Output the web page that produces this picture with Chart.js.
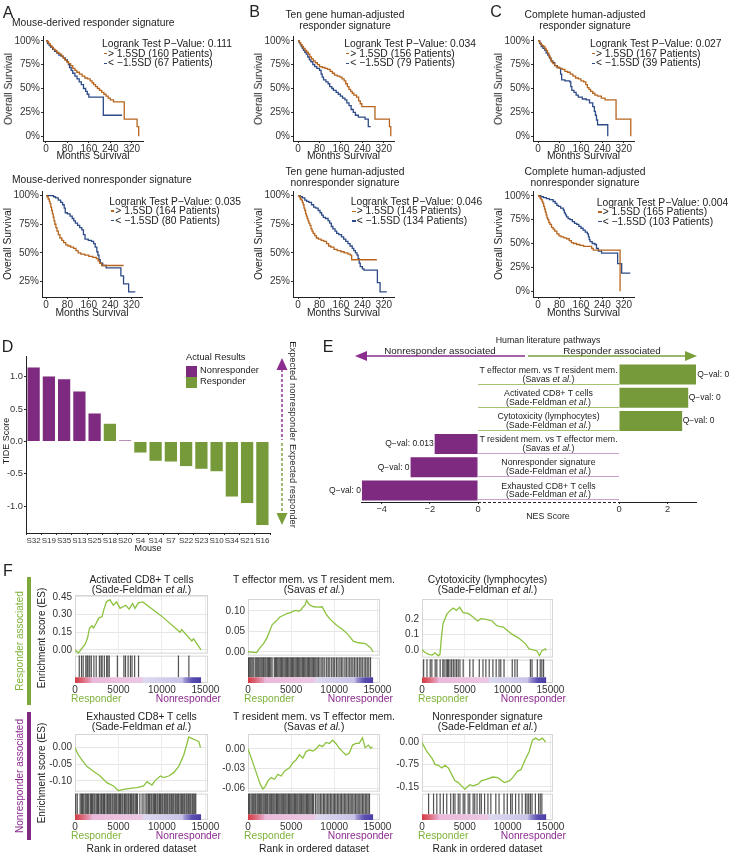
<!DOCTYPE html>
<html>
<head>
<meta charset="utf-8">
<script src="https://cdn.jsdelivr.net/npm/chart.js@4.4.1/dist/chart.umd.min.js"></script>
<style>
body{margin:0;background:#fff;width:730px;height:857px;position:relative;overflow:hidden;font-family:'Liberation Sans',Arial,Helvetica,sans-serif;color:#222}
.t{position:absolute;white-space:nowrap;line-height:1}
canvas{position:absolute}
</style>
</head>
<body>
<svg width="730" height="857" style="position:absolute;left:0;top:0">
  <line x1="282" y1="369" x2="282" y2="440" stroke="#8B2D8F" stroke-width="1.4" stroke-dasharray="3,2"/>
  <polygon points="282,358 276.5,370 287.5,370" fill="#8B2D8F"/>
  <line x1="282" y1="443" x2="282" y2="514" stroke="#7A9E3A" stroke-width="1.4" stroke-dasharray="3,2"/>
  <polygon points="282,525 276.5,513 287.5,513" fill="#7A9E3A"/>
  <line x1="364" y1="356" x2="525" y2="356" stroke="#8B2D8F" stroke-width="1.5"/>
  <polygon points="355,356 367,351 367,361" fill="#8B2D8F"/>
  <line x1="528" y1="356" x2="688" y2="356" stroke="#7A9E3A" stroke-width="1.5"/>
  <polygon points="697,356 685,351 685,361" fill="#7A9E3A"/>
  <line x1="478" y1="502.5" x2="619" y2="502.5" stroke="#222" stroke-width="1" stroke-dasharray="3,2"/>
  <rect x="27" y="577" width="4" height="128" fill="#7DA83A"/>
  <rect x="27" y="712" width="4" height="128" fill="#7E2A80"/>
</svg>
<script>
// ---------- survival curves (months, % surviving) ----------
const kmXTicks = [0, 80, 160, 240, 320];
const kmYTicksFull = [0, 25, 50, 75, 100];
const kmYTicksCut = [25, 50, 75, 100];
const kmPValues = ['0.111', '0.035', '0.034', '0.046', '0.027', '0.004'];
const kmHighN = [160, 164, 156, 145, 167, 165];
const kmLowN = [67, 80, 79, 134, 39, 103];

const kmA1High = [[0,100],[5,99],[10,97],[16,95],[22,93],[28,91],[34,90],[40,88],[46,87],[52,86],[58,84],[64,82],[70,80],[77,78],[84,76],[92,74],[100,71],[108,69],[115,67],[125,65],[135,63],[145,61],[155,60],[165,58],[172,56],[178,54],[185,52],[192,50],[200,48],[208,46],[216,44],[224,42],[232,40],[240,38],[252,36],[292,18],[340,10],[346,0]];
const kmA1Low = [[0,100],[6,97],[12,95],[18,93],[25,91],[32,89],[40,87],[48,85],[56,84],[64,82],[72,80],[80,78],[84,75],[88,72],[94,69],[100,66],[108,63],[116,60],[124,57],[132,54],[140,50],[148,47],[154,44],[160,41],[214,22],[284,22]];
const kmA2High = [[0,100],[4,99],[8,97],[12,95],[15,93],[18,90],[21,87],[24,84],[27,81],[30,78],[33,75],[37,72],[41,69],[46,66],[52,63],[59,61],[66,59],[74,57],[82,56],[92,55],[103,54],[112,52],[120,50],[130,49],[145,48],[160,47],[175,46],[188,45],[195,43],[200,41],[208,39],[290,39]];
const kmA2Low = [[0,100],[20,100],[28,99],[36,98],[46,96],[55,94],[62,92],[68,89],[72,85],[80,84],[90,82],[98,80],[104,78],[110,76],[118,74],[126,72],[134,70],[140,66],[146,62],[158,61],[170,60],[178,58],[184,55],[190,51],[194,48],[198,44],[203,41],[212,39],[225,37],[272,37],[280,30],[290,23],[309,16],[334,16]];
const kmB1High = [[0,100],[5,98],[10,96],[15,94],[20,92],[26,90],[32,88],[38,86],[44,83],[50,81],[57,79],[64,77],[72,75],[80,73],[90,72],[100,71],[110,70],[120,68],[128,66],[136,64],[146,63],[156,62],[164,60],[172,58],[178,55],[184,52],[190,49],[196,47],[202,45],[208,43],[218,41],[226,37],[232,34],[238,31],[287,18],[341,10],[346,0]];
const kmB1Low = [[0,100],[4,98],[8,96],[12,94],[16,92],[20,90],[25,88],[30,86],[36,83],[42,80],[48,78],[55,75],[62,73],[70,71],[80,69],[86,65],[90,62],[95,59],[104,57],[112,55],[118,52],[126,50],[132,48],[142,46],[150,44],[158,42],[166,40],[175,38],[182,35],[190,32],[198,28],[206,25],[214,22],[225,20],[250,18],[262,10],[271,10]];
const kmB2High = [[0,100],[4,99],[8,97],[12,96],[16,94],[19,92],[22,89],[25,87],[28,84],[31,82],[34,80],[37,78],[40,76],[44,74],[48,71],[52,69],[56,67],[62,65],[68,63],[76,62],[86,61],[96,60],[106,58],[114,56],[122,55],[134,53],[146,52],[160,51],[172,50],[186,49],[195,48],[200,44],[294,44]];
const kmB2Low = [[0,100],[8,99],[16,98],[25,96],[32,95],[40,94],[50,92],[58,90],[66,89],[75,87],[82,85],[88,83],[94,81],[102,80],[112,78],[118,76],[124,73],[130,71],[138,69],[144,67],[152,66],[162,64],[170,62],[178,60],[186,58],[194,56],[202,54],[208,52],[214,50],[220,48],[224,45],[228,41],[232,38],[240,36],[246,35],[288,35],[296,24],[306,16],[331,16]];
const kmC1High = [[0,100],[5,98],[10,96],[15,95],[20,94],[25,92],[30,90],[35,87],[40,84],[45,81],[50,78],[56,76],[62,74],[70,72],[80,71],[90,70],[100,68],[110,67],[120,65],[130,63],[140,61],[150,60],[160,58],[170,57],[178,54],[184,51],[190,49],[196,47],[204,45],[212,43],[222,42],[236,40],[250,38],[291,18],[346,0]];
const kmC1Low = [[0,100],[6,97],[12,94],[18,92],[25,90],[30,87],[36,85],[42,82],[48,79],[55,77],[62,74],[72,72],[80,71],[84,65],[88,59],[100,58],[118,57],[122,52],[126,48],[134,46],[142,43],[150,41],[165,39],[180,38],[192,35],[204,31],[210,26],[214,22],[218,17],[222,12],[256,12],[260,0]];
const kmC2High = [[0,100],[4,99],[8,97],[12,96],[15,94],[18,92],[21,89],[24,86],[27,83],[30,80],[33,77],[36,75],[40,72],[44,70],[50,67],[56,65],[62,63],[70,60],[78,58],[86,57],[96,56],[106,55],[116,53],[124,51],[132,50],[144,49],[156,48],[170,47],[194,47],[200,45],[206,43],[306,0]];
const kmC2Low = [[0,100],[10,99],[20,98],[31,97],[42,96],[56,94],[64,92],[70,90],[76,89],[84,87],[94,85],[98,82],[102,80],[106,78],[112,76],[119,75],[128,73],[136,71],[144,70],[152,68],[160,66],[168,64],[176,62],[184,60],[188,57],[191,54],[194,52],[202,50],[212,49],[218,45],[225,42],[237,40],[297,29],[312,19],[344,19]];

// ---------- TIDE scores ----------
const mice = ['S32','S19','S35','S13','S25','S18','S20','S4','S14','S7','S22','S23','S10','S34','S21','S16'];
const tideScore = [1.15, 1.01, 0.97, 0.78, 0.44, 0.28, 0.02, -0.18, -0.31, -0.32, -0.39, -0.43, -0.47, -0.86, -0.96, -1.30];
const actualResult = ['Nonresponder','Nonresponder','Nonresponder','Nonresponder','Nonresponder','Responder','Nonresponder','Responder','Responder','Responder','Responder','Responder','Responder','Responder','Responder','Responder'];
const tideTicks = [-1, -0.5, 0, 0.5, 1];
const tideTickLabels = ['-1.0', '-0.5', '0.0', '0.5', '1.0'];

// ---------- NES of human literature pathways ----------
const pathwayNames = ['T effector mem. vs T resident mem.', 'Activated CD8+ T cells', 'Cytotoxicity (lymphocytes)', 'T resident mem. vs T effector mem.', 'Nonresponder signature', 'Exhausted CD8+ T cells'];
const pathwayAuthors = ['Savas', 'Sade-Feldman', 'Sade-Feldman', 'Savas', 'Sade-Feldman', 'Sade-Feldman'];
const nesScore = [3.2, 2.85, 2.6, -1.8, -2.8, -4.82];
const qValue = ['0', '0', '0', '0.013', '0', '0'];
const nesTicksLeft = [-4, -2, 0];
const nesTicksRight = [0, 2];

// ---------- GSEA running enrichment scores [rank, ES] and hit ranks ----------
const rankTicks = [0, 5000, 10000, 15000];
const esActivated = [[0,0],[390,-0.028],[780,0.011],[1170,0.047],[1440,0.10],[1675,0.186],[1950,0.205],[2140,0.186],[2450,0.228],[2730,0.27],[3120,0.283],[3310,0.34],[3620,0.41],[4010,0.428],[4400,0.38],[4790,0.408],[5180,0.353],[5840,0.38],[6230,0.347],[6620,0.394],[6900,0.353],[7290,0.40],[7790,0.408],[9935,0.289],[12080,0.15],[12270,0.172],[13440,0.075],[13640,0.094],[14500,0.0]];
const esTeffTres = [[0,0],[1000,-0.002],[1400,0.01],[1800,0.02],[2200,0.034],[2500,0.05],[2800,0.066],[3100,0.072],[3400,0.078],[3700,0.085],[4000,0.088],[4500,0.093],[5000,0.096],[5300,0.1],[5600,0.101],[5900,0.099],[6200,0.104],[6400,0.11],[6600,0.114],[6800,0.126],[7000,0.118],[7200,0.114],[7600,0.11],[8200,0.109],[8600,0.11],[9000,0.094],[9300,0.085],[9600,0.078],[10200,0.066],[10600,0.06],[11000,0.054],[11600,0.042],[12200,0.026],[12800,0.022],[13600,0.02],[14200,0.01],[14500,0]];
const esCytotox = [[0,0],[400,-0.02],[800,-0.03],[1200,-0.035],[1500,-0.02],[1900,-0.04],[2100,-0.03],[2250,0.07],[2450,0.17],[2900,0.235],[3300,0.26],[3650,0.275],[4000,0.26],[4400,0.28],[4800,0.245],[5400,0.24],[6000,0.215],[6500,0.19],[6900,0.205],[7500,0.2],[8200,0.19],[8700,0.16],[9000,0.155],[9500,0.15],[9800,0.135],[10500,0.103],[11300,0.077],[12100,0.039],[12500,0.006],[13000,0.0],[13400,-0.006],[13730,-0.039],[14000,-0.006],[14400,0.006],[14500,-0.005]];
const esExhausted = [[0,0],[385,-0.022],[770,-0.036],[1353,-0.056],[2118,-0.071],[2888,-0.085],[3658,-0.105],[4428,-0.115],[5005,-0.129],[5583,-0.125],[6353,-0.122],[7123,-0.12],[7893,-0.115],[8278,-0.102],[8855,-0.112],[9240,-0.098],[9818,-0.085],[10203,-0.09],[10780,-0.085],[11358,-0.075],[11935,-0.056],[12513,-0.022],[13090,0.032],[13475,0.027],[13860,0.023],[14245,0.018],[14438,0]];
const esTresTeff = [[0,0],[385,-0.014],[770,-0.029],[1150,-0.044],[1420,-0.054],[1730,-0.0615],[2040,-0.0565],[2310,-0.049],[2690,-0.044],[3080,-0.0465],[3460,-0.039],[3850,-0.0415],[4230,-0.034],[4810,-0.029],[5190,-0.0215],[5580,-0.0165],[5960,-0.009],[6350,-0.014],[6730,-0.004],[7120,-0.0015],[7500,-0.003],[7880,0],[8270,0.006],[8650,0.0035],[9040,0.01],[9420,0.0085],[9810,0.0135],[10190,0.0085],[10580,0.001],[10960,-0.004],[11350,-0.009],[11730,-0.0065],[12120,0.006],[12500,0.0085],[12880,0.0085],[13270,0.017],[13580,0.002],[13960,0.006],[14230,0.001],[14420,0.0035]];
const esNonresp = [[0,0],[578,-0.031],[1155,-0.053],[1540,-0.075],[1925,-0.077],[2310,-0.086],[2695,-0.077],[3080,-0.086],[3465,-0.108],[3850,-0.13],[4235,-0.136],[4620,-0.147],[5005,-0.158],[5580,-0.143],[5970,-0.147],[6545,-0.141],[6930,-0.13],[7500,-0.125],[8280,-0.117],[8855,-0.119],[9625,-0.136],[10200,-0.13],[10590,-0.119],[11165,-0.097],[11550,-0.092],[12130,-0.053],[12510,-0.031],[12900,0.008],[13280,0.015],[13670,0.008],[14050,0.015],[14440,0.002]];

const hitsActivated = [490, 750, 940, 1240, 1390, 1500, 1690, 1875, 2175, 2440, 2810, 3000, 3120, 3375, 3640, 3780, 3940, 4875, 5625, 5810, 6110, 6375, 6560, 6860, 7310, 11900, 13100];
const hitsTeffTres = [60, 200, 330, 470, 610, 820, 950, 1080, 1240, 1380, 1520, 1650, 1800, 1950, 2080, 2230, 2370, 2500, 2640, 2790, 3050, 3190, 3320, 3460, 3600, 3740, 3880, 4020, 4170, 4310, 4450, 4590, 4730, 4880, 5020, 5160, 5300, 5450, 5590, 5730, 5870, 6010, 6150, 6300, 6440, 6580, 6720, 6870, 7010, 7150, 7300, 7440, 7580, 7730, 7870, 8020, 8180, 8350, 8560, 8700, 8900, 9120, 9300, 9480, 9700, 9880, 10050, 10260, 10440, 10650, 10820, 11000, 11230, 11400, 11600, 11790, 11960, 12150, 12330, 12520, 12700, 12900, 13080, 13250, 13460, 13640, 13820, 14000, 14200];
const hitsCytotox = [190, 580, 960, 1150, 1540, 1730, 2120, 2430, 2580, 2810, 2960, 3080, 3270, 3460, 3660, 3850, 4040, 4230, 4430, 4810, 5580, 5970, 6690, 7120, 7460, 7850, 8280, 8660, 9000, 9200, 9580, 10540, 10850, 11120, 12660, 12850, 13470, 13810, 14000, 14200];
const hitsExhausted = [80, 260, 590, 740, 870, 1010, 1170, 1300, 1450, 1580, 1760, 1890, 2010, 2170, 2290, 2450, 2600, 2710, 2880, 3020, 3130, 3290, 3400, 3570, 3720, 3830, 3990, 4110, 4270, 4390, 4560, 4690, 4810, 4970, 5120, 5230, 5390, 5510, 5680, 5790, 5950, 6100, 6210, 6370, 6490, 6650, 6770, 6930, 7070, 7190, 7460, 7720, 7930, 8160, 8290, 8450, 8570, 8730, 8850, 9010, 9150, 9270, 9430, 9550, 9710, 9830, 9990, 10110, 10270, 10390, 10550, 10670, 10830, 10950, 11110, 11250, 11370, 11530, 11650, 11810, 11930, 12090, 12230, 12350, 12510, 12630, 12790, 12910, 13070, 13210, 13330, 13490, 13610, 13770, 13890];
const hitsTresTeff = [40, 180, 350, 490, 620, 780, 900, 1060, 1190, 1330, 1470, 1600, 1750, 1880, 2030, 2170, 2290, 2450, 2580, 2720, 2870, 3000, 3140, 3290, 3410, 3560, 3700, 3840, 3970, 4110, 4260, 4390, 4530, 4680, 4800, 4950, 5090, 5230, 5370, 5500, 5650, 5780, 5930, 6060, 6200, 6350, 6480, 6620, 6770, 6900, 7040, 7180, 7320, 7470, 7600, 7820, 8010, 8220, 8390, 8560, 8740, 8890, 9060, 9230, 9380, 9550, 9710, 9880, 10040, 10190, 10360, 10520, 10690, 10840, 11010, 11170, 11330, 11490, 11660, 11820, 11970, 12140, 12300, 12470, 12630, 12780, 12950, 13110, 13280, 13430, 13600, 13760, 13920, 14080];
const hitsNonresp = [770, 1350, 1730, 2120, 2500, 2890, 3350, 3660, 3850, 4230, 4430, 4810, 5000, 5390, 5580, 5970, 6160, 6430, 6740, 6930, 7310, 7700, 8040, 8620, 9000, 9580, 9960, 10350, 10540, 10930, 11310, 11690, 12080, 12270, 12460, 12660, 12850, 13240, 13620, 13810, 14000];

const ticksActivated = [0, 0.15, 0.30, 0.45], labelsActivated = ['0.00', '0.15', '0.30', '0.45'];
const ticksTeffTres = [0, 0.05, 0.10], labelsTeffTres = ['0.00', '0.05', '0.10'];
const ticksCytotox = [0, 0.1, 0.2], labelsCytotox = ['0.0', '0.1', '0.2'];
const ticksExhausted = [-0.10, -0.05, 0], labelsExhausted = ['-0.10', '-0.05', '0.00'];
const ticksTresTeff = [-0.06, -0.03, 0], labelsTresTeff = ['-0.06', '-0.03', '0.00'];
const ticksNonresp = [-0.15, -0.075, 0], labelsNonresp = ['-0.15', '-0.75', '0.00'];
const rankEnd = 14500;

// ---------- styles ----------
const ORANGE = '#B7651E', BLUE = '#2D4B88';
const PURPLE = '#7D2A80', GREEN = '#76993A';
const ES_GREEN = '#8CC23F', TXT_GREEN = '#7EB23A', TXT_PURPLE = '#8C2B8F';
const rankColorStops = [[0, '#D33A45'], [0.06, '#DD6777'], [0.125, '#E6A2C2'], [0.135, '#EBB8DA'], [0.53, '#ECC8E4'], [0.545, '#DCD9F0'], [0.85, '#C9C4E8'], [0.87, '#9C94D2'], [0.93, '#5B4FB0'], [1, '#4A3DA6']];

Chart.defaults.font.family = "'Liberation Sans', Arial, Helvetica, sans-serif";
Chart.defaults.color = '#333';

function txt(s, x, y, o = {}) {
  const d = document.createElement('div');
  d.className = 't';
  d.innerHTML = s;
  d.style.left = x + 'px';
  d.style.top = y + 'px';
  d.style.fontSize = (o.size || 10) + 'px';
  if (o.color) d.style.color = o.color;
  if (o.lh) d.style.lineHeight = o.lh + 'px';
  if (o.center) d.style.textAlign = 'center';
  const ax = o.align === 'left' ? '0' : o.align === 'right' ? '-100%' : '-50%';
  d.style.transform = `translate(${ax},-50%)` + (o.rot ? ` rotate(${o.rot}deg)` : '');
  document.body.appendChild(d);
  return d;
}

function box(x, y, w, h, style) {
  const d = document.createElement('div');
  d.style.cssText = `position:absolute;left:${x}px;top:${y}px;width:${w}px;height:${h}px;` + style;
  document.body.appendChild(d);
  return d;
}

// canvas sized so that the chart area lands on [L,R]x[T,B]
function place(area, yW, xH, pad) {
  const c = document.createElement('canvas');
  const w = Math.round(area.R - area.L + pad.l + yW + pad.r);
  const h = Math.round(area.B - area.T + pad.t + xH + (pad.b || 0));
  c.width = w; c.height = h;
  c.style.cssText = `left:${Math.round(area.L - yW - pad.l)}px;top:${Math.round(area.T - pad.t)}px;width:${w}px;height:${h}px`;
  document.body.appendChild(c);
  return c;
}

function baseOpts(pad) {
  return {
    responsive: false, animation: false, events: [],
    layout: {autoPadding: false, padding: {left: pad.l, right: pad.r, top: pad.t, bottom: pad.b || 0}},
    plugins: {legend: {display: false}, tooltip: {enabled: false}}
  };
}

const fixTicks = arr => s => { s.ticks = arr.map(v => ({value: v})); };

// ---------- panels A-C ----------
const kmPanels = [
  {area: {L: 43, R: 143, T: 36.25, B: 140.75}, xMin: -11, xMax: 362, yMin: -5, yMax: 105, yTicks: kmYTicksFull, high: kmA1High, low: kmA1Low, leg: [102, 44.3]},
  {area: {L: 42, R: 142, T: 191.4, B: 297}, xMin: -15, xMax: 359, yMin: 11.5, yMax: 104, yTicks: kmYTicksCut, high: kmA2High, low: kmA2Low, leg: [109.3, 201.7]},
  {area: {L: 293, R: 394, T: 36.25, B: 140.75}, xMin: -19, xMax: 358, yMin: -5, yMax: 105, yTicks: kmYTicksFull, high: kmB1High, low: kmB1Low, leg: [344.3, 44.3]},
  {area: {L: 293, R: 394, T: 191.4, B: 297}, xMin: -19, xMax: 358, yMin: 11.5, yMax: 104, yTicks: kmYTicksCut, high: kmB2High, low: kmB2Low, leg: [350.7, 202]},
  {area: {L: 533, R: 634, T: 36.25, B: 140.75}, xMin: -19, xMax: 358, yMin: -5, yMax: 105, yTicks: kmYTicksFull, high: kmC1High, low: kmC1Low, leg: [590, 44.3]},
  {area: {L: 533, R: 634, T: 191.2, B: 297}, xMin: -19, xMax: 358, yMin: -6, yMax: 105, yTicks: kmYTicksFull, high: kmC2High, low: kmC2Low, leg: [596.7, 202.7]}
];

kmPanels.forEach((k, i) => {
  const yW = 40, xH = 12, pad = {l: 2, r: 8, t: 7};
  const c = place(k.area, yW, xH, pad);
  const axisGrid = {drawOnChartArea: false, tickLength: 2, color: '#333'};
  const o = baseOpts(pad);
  o.scales = {
    x: {type: 'linear', min: k.xMin, max: k.xMax, afterFit: s => { s.height = xH; }, afterBuildTicks: fixTicks(kmXTicks),
        ticks: {callback: v => String(v), font: {size: 10}, color: '#333', padding: 0, maxRotation: 0, autoSkip: false},
        grid: axisGrid, border: {color: '#222', width: 1}},
    y: {min: k.yMin, max: k.yMax, afterFit: s => { s.width = yW; }, afterBuildTicks: fixTicks(k.yTicks),
        ticks: {callback: v => v + '%', font: {size: 10}, color: '#333', padding: 1, autoSkip: false},
        grid: axisGrid, border: {color: '#222', width: 1}}
  };
  new Chart(c, {
    type: 'line',
    data: {datasets: [
      {data: k.high.map(p => ({x: p[0], y: p[1]})), borderColor: ORANGE, borderWidth: 1.3, pointRadius: 0, stepped: 'before'},
      {data: k.low.map(p => ({x: p[0], y: p[1]})), borderColor: BLUE, borderWidth: 1.3, pointRadius: 0, stepped: 'before'}
    ]},
    options: o
  });
  const [lx, ly] = k.leg;
  txt('Logrank Test P\u2212Value: ' + kmPValues[i], lx, ly, {size: 10.3, align: 'left'});
  box(lx + 1.5, ly + 9.3 - 0.8, 3.5, 1.6, 'background:' + ORANGE);
  txt('&gt; 1.5SD (' + kmHighN[i] + ' Patients)', lx + 6, ly + 9.3, {size: 10.3, align: 'left'});
  box(lx + 1.5, ly + 19 - 0.8, 3.5, 1.6, 'background:' + BLUE);
  txt('&lt; \u22121.5SD (' + kmLowN[i] + ' Patients)', lx + 6, ly + 19, {size: 10.3, align: 'left'});
  const midX = (k.area.L + k.area.R) / 2, midY = (k.area.T + k.area.B) / 2;
  txt('Months Survival', midX, k.area.B + 15.5, {size: 10.3});
  txt('Overall Survival', k.area.L - 34, midY, {size: 10.3, rot: -90});
});

txt('A', 8, 12.5, {size: 16});
txt('B', 254.5, 12, {size: 16});
txt('C', 496, 12, {size: 16});
txt('Mouse-derived responder signature', 12, 23, {size: 10.3, align: 'left'});
txt('Mouse-derived nonresponder signature', 12, 180, {size: 10.3, align: 'left'});
txt('Ten gene human-adjusted', 345, 15, {size: 10.3});
txt('responder signature', 345, 26, {size: 10.3});
txt('Ten gene human-adjusted', 345, 171.5, {size: 10.3});
txt('nonresponder signature', 345, 183, {size: 10.3});
txt('Complete human-adjusted', 585, 15, {size: 10.3});
txt('responder signature', 585, 26, {size: 10.3});
txt('Complete human-adjusted', 585, 171.5, {size: 10.3});
txt('nonresponder signature', 585, 183, {size: 10.3});

// ---------- panel D ----------
(function () {
  const yW = 24, xH = 14, pad = {l: 2, r: 2, t: 6};
  const c = place({L: 26, R: 270, T: 356, B: 533}, yW, xH, pad);
  const o = baseOpts(pad);
  const axisGrid = {drawOnChartArea: false, tickLength: 2, color: '#333'};
  o.scales = {
    x: {afterFit: s => { s.height = xH; }, grid: axisGrid, border: {color: '#222'},
        ticks: {font: {size: 8}, color: '#333', padding: 1, maxRotation: 0, minRotation: 0, autoSkip: false}},
    y: {min: -1.415, max: 1.31, afterFit: s => { s.width = yW; }, afterBuildTicks: fixTicks(tideTicks),
        ticks: {callback: (v, i) => tideTickLabels[i], font: {size: 9.3}, color: '#333', padding: 1, autoSkip: false},
        grid: axisGrid, border: {color: '#222'}}
  };
  new Chart(c, {
    type: 'bar',
    data: {labels: mice, datasets: [{data: tideScore, backgroundColor: actualResult.map(r => r === 'Nonresponder' ? PURPLE : GREEN),
      borderColor: 'rgba(235,242,225,0.9)', borderWidth: 0.6, barPercentage: 0.88, categoryPercentage: 1}]},
    options: o
  });
  txt('D', 7.5, 347, {size: 16});
  txt('TIDE Score', 6, 441, {size: 9, rot: -90});
  txt('Mouse', 148, 548, {size: 9});
  txt('Actual Results', 186, 358, {size: 9.3, align: 'left'});
  box(186, 366, 11, 10.5, 'background:' + PURPLE);
  txt('Nonresponder', 200, 371, {size: 9.3, align: 'left'});
  box(186, 377, 11, 10.5, 'background:' + GREEN);
  txt('Responder', 200, 382, {size: 9.3, align: 'left'});
  txt('Expected nonresponder', 293, 391, {size: 9.4, rot: 90});
  txt('Expected responder', 293, 486, {size: 9.4, rot: 90});
})();

// ---------- panel E ----------
const qLabels = {
  id: 'qLabels',
  afterDatasetsDraw(chart) {
    const ctx = chart.ctx;
    const vals = chart.data.datasets[0].data;
    chart.getDatasetMeta(0).data.forEach((bar, i) => {
      const v = vals[i];
      if (v === null) return;
      ctx.save();
      ctx.font = "8.5px 'Liberation Sans', Arial, sans-serif";
      ctx.fillStyle = '#222';
      ctx.textBaseline = 'middle';
      ctx.textAlign = v >= 0 ? 'left' : 'right';
      ctx.fillText('Q\u2212val: ' + qValue[i], v >= 0 ? bar.x + 0.5 : bar.x - 1, bar.y);
      ctx.restore();
    });
  }
};

function nesChart(area, pad, values, min, max, ticks) {
  const xH = 12;
  const c = place(area, 0, xH, pad);
  const o = baseOpts(pad);
  o.indexAxis = 'y';
  o.scales = {
    x: {min, max, afterFit: s => { s.height = xH; }, afterBuildTicks: fixTicks(ticks),
        ticks: {callback: v => v < 0 ? '\u2212' + Math.abs(v) : String(v), font: {size: 9.3}, color: '#333', padding: 0, maxRotation: 0},
        grid: {drawOnChartArea: false, tickLength: 2, color: '#333'}, border: {color: '#222'}},
    y: {display: false}
  };
  new Chart(c, {
    type: 'bar',
    data: {labels: pathwayNames, datasets: [{data: values, backgroundColor: values.map(v => v >= 0 ? GREEN : PURPLE), barPercentage: 0.86, categoryPercentage: 1}]},
    options: o,
    plugins: [qLabels]
  });
}
nesChart({L: 361, R: 478, T: 363, B: 502}, {l: 44, r: 6, t: 2}, nesScore.map(v => v < 0 ? v : null), -4.86, 0, nesTicksLeft);
nesChart({L: 619, R: 696, T: 363, B: 502}, {l: 6, r: 34, t: 2}, nesScore.map(v => v >= 0 ? v : null), 0, 3.17, nesTicksRight);

pathwayNames.forEach((name, i) => {
  const rowH = (502 - 363) / 6;
  const yc = 363 + rowH * (i + 0.5);
  const col = nesScore[i] >= 0 ? '#A3C274' : '#C8A2CB';
  box(478, yc - 9.5, 141, 19.5, 'border-bottom:1px solid ' + col + ';box-sizing:border-box');
  txt(name + '<br>(' + pathwayAuthors[i] + ' <i>et al.</i>)', 548.5, yc + 0.2, {size: 8.8, lh: 8.8, center: true});
});
txt('E', 328, 347, {size: 16});
txt('Human literature pathways', 548, 339.5, {size: 8.8});
txt('Nonresponder associated', 440, 351, {size: 9.8});
txt('Responder associated', 612, 351, {size: 9.8});
txt('NES Score', 548, 516, {size: 8.8});

// ---------- panel F ----------
function rankGradient(chart) {
  const xs = chart.scales.x;
  if (!xs || !isFinite(xs.getPixelForValue(rankEnd))) return '#ddd';
  const g = chart.ctx.createLinearGradient(xs.getPixelForValue(0), 0, xs.getPixelForValue(rankEnd), 0);
  rankColorStops.forEach(([p, col]) => g.addColorStop(p, col));
  return g;
}

const panelBox = {
  id: 'panelBox',
  beforeDatasetsDraw(chart) {
    const {ctx, chartArea: a, scales: s} = chart;
    ctx.save();
    ctx.fillStyle = '#fff';
    ctx.fillRect(a.left, s.y.bottom, a.width, 2);
    ctx.strokeStyle = '#d6d6d6';
    ctx.lineWidth = 1;
    ctx.strokeRect(a.left + 0.5, s.y.top + 0.5, a.width - 1, s.y.bottom - s.y.top - 1);
    ctx.strokeRect(a.left + 0.5, s.yh.top + 2.5, a.width - 1, s.yc.bottom - s.yh.top - 3);
    ctx.restore();
  }
};

const gseaPanels = [
  {t1: 'Activated CD8+ T cells', a: 'Sade-Feldman', es: esActivated, hits: hitsActivated, ticks: ticksActivated, labels: labelsActivated, yMin: -0.033, yMax: 0.467, L: 75, R: 208, esT: 593, esB: 653, hitsB: 677, colB: 683, tY: 580},
  {t1: 'T effector mem. vs T resident mem.', a: 'Savas', es: esTeffTres, hits: hitsTeffTres, ticks: ticksTeffTres, labels: labelsTeffTres, yMin: -0.0095, yMax: 0.129, L: 248, R: 380, esT: 597, esB: 655, hitsB: 677, colB: 683, tY: 580},
  {t1: 'Cytotoxicity (lymphocytes)', a: 'Sade-Feldman', es: esCytotox, hits: hitsCytotox, ticks: ticksCytotox, labels: labelsCytotox, yMin: -0.0516, yMax: 0.335, L: 422, R: 553, esT: 597, esB: 657, hitsB: 677, colB: 683, tY: 580},
  {t1: 'Exhausted CD8+ T cells', a: 'Sade-Feldman', es: esExhausted, hits: hitsExhausted, ticks: ticksExhausted, labels: labelsExhausted, yMin: -0.132, yMax: 0.041, L: 75, R: 208, esT: 732, esB: 791, hitsB: 814, colB: 820, tY: 717},
  {t1: 'T resident mem. vs T effector mem.', a: 'Savas', es: esTresTeff, hits: hitsTresTeff, ticks: ticksTresTeff, labels: labelsTresTeff, yMin: -0.0655, yMax: 0.023, L: 248, R: 380, esT: 732, esB: 791, hitsB: 814, colB: 820, tY: 717},
  {t1: 'Nonresponder signature', a: 'Sade-Feldman', es: esNonresp, hits: hitsNonresp, ticks: ticksNonresp, labels: labelsNonresp, yMin: -0.1666, yMax: 0.029, L: 422, R: 553, esT: 732, esB: 791, hitsB: 814, colB: 820, tY: 717}
];

gseaPanels.forEach((g, i) => {
  const yW = 32, xH = 12, pad = {l: 2, r: 16, t: 7};
  const gap = 2;
  const esH = g.esB - g.esT, hitsH = g.hitsB - g.esB, colH = g.colB - g.hitsB;
  const c = place({L: g.L, R: g.R, T: g.esT, B: g.colB}, yW, xH, pad);
  const o = baseOpts(pad);
  const hidden = {ticks: {display: false}, grid: {display: false}, border: {display: false}, afterFit: s => { s.width = yW; }};
  o.scales = {
    x: {type: 'linear', min: 0, max: 15300, afterFit: s => { s.height = xH; }, afterBuildTicks: fixTicks(rankTicks),
        ticks: {callback: v => String(v), font: {size: 10}, color: '#333', padding: 1, maxRotation: 0, autoSkip: false},
        grid: {color: '#ececec', drawTicks: false}, border: {display: false}},
    yc: Object.assign({stack: 'g', stackWeight: colH, min: 0, max: 1}, hidden),
    yh: Object.assign({stack: 'g', stackWeight: hitsH, min: 0, max: hitsH / (hitsH - gap)}, hidden),
    y: {stack: 'g', stackWeight: esH, min: g.yMin, max: g.yMax, afterFit: s => { s.width = yW; }, afterBuildTicks: fixTicks(g.ticks),
        ticks: {callback: (v, k) => g.labels[k], font: {size: 10}, color: '#333', padding: 3, autoSkip: false},
        grid: {color: '#e6e6e6', drawTicks: false}, border: {display: false}}
  };
  new Chart(c, {
    type: 'line',
    data: {datasets: [
      {data: g.es.map(p => ({x: p[0], y: p[1]})), yAxisID: 'y', borderColor: ES_GREEN, borderWidth: 1.3, pointRadius: 0},
      {data: g.hits.map(h => ({x: h, y: 0.5})), yAxisID: 'yh', showLine: false, pointStyle: 'line', pointRotation: 90,
       pointRadius: (hitsH - gap) / 2, pointBorderColor: 'rgba(15,15,15,0.72)', pointBorderWidth: 1.2},
      {data: [{x: 0, y: 0.5}, {x: rankEnd, y: 0.5}], yAxisID: 'yc', borderWidth: colH, borderCapStyle: 'butt', pointRadius: 0,
       borderColor: ctx => rankGradient(ctx.chart)}
    ]},
    options: o,
    plugins: [panelBox]
  });
  const cx = (g.L + g.R) / 2;
  txt(g.t1, cx, g.tY, {size: 10.3});
  txt('(' + g.a + ' <i>et al.</i>)', cx, g.tY + 10, {size: 10.3});
  const lblY = g.colB + 16;
  txt('Responder', g.L - 4, lblY, {size: 10.3, align: 'left', color: TXT_GREEN});
  txt('Nonresponder', g.R + 13, lblY, {size: 10.3, align: 'right', color: TXT_PURPLE});
  if (i >= 3) txt('Rank in ordered dataset', cx, 849, {size: 10.3});
});

txt('F', 8, 571, {size: 16});
txt('Enrichment score (ES)', 42, 638, {size: 10, rot: -90});
txt('Enrichment score (ES)', 42, 773, {size: 10, rot: -90});
txt('Responder associated', 19.5, 641, {size: 10, rot: -90, color: TXT_GREEN});
txt('Nonresponder associated', 19.5, 776, {size: 10, rot: -90, color: TXT_PURPLE});
</script>
</body>
</html>
